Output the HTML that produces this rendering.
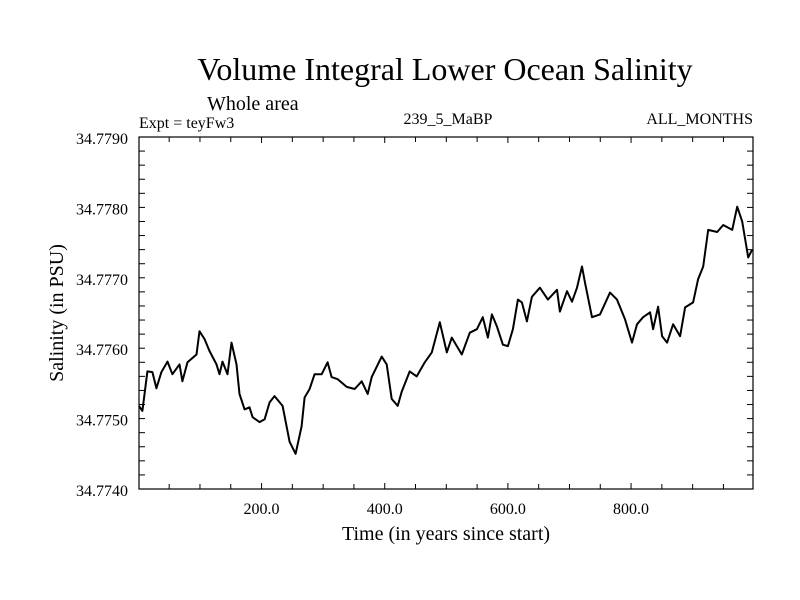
<!DOCTYPE html>
<html><head><meta charset="utf-8"><style>
body{margin:0;background:#fff;}
svg{display:block;font-family:"Liberation Serif",serif;}
</style></head><body>
<svg id="chart" width="800" height="600">
<text x="445" y="80" font-size="32" text-anchor="middle">Volume Integral Lower Ocean Salinity</text>
<text x="207" y="110" font-size="20">Whole area</text>
<text x="139" y="128" font-size="16">Expt = teyFw3</text>
<text x="448" y="124" font-size="16" text-anchor="middle">239_5_MaBP</text>
<text x="753" y="124" font-size="16" text-anchor="end">ALL_MONTHS</text>
<text x="446" y="540" font-size="20" text-anchor="middle">Time (in years since start)</text>
<text transform="translate(63,313) rotate(-90)" font-size="20" text-anchor="middle">Salinity (in PSU)</text>
<g id="axes"></g>
<g id="plot"></g>
</svg>
<script>
const years=[1,6.5,14.6,22.8,29.3,37.4,47.2,55.3,66.7,71.5,79.7,94.3,99.2,107.3,115.4,126.8,131.7,136.6,144.7,151.2,159.3,164.2,172.4,180.5,185.4,196.7,204.9,213.0,221.1,234.1,245.5,255.3,265.0,269.9,278.0,286.2,297.6,307.3,313.8,323.6,338.2,351.2,362.6,372.4,378.9,395.1,403.2,411.4,421.1,427.6,440.6,452.0,465.0,476.4,489.4,500.8,508.9,525.2,538.2,549.6,559.3,567.5,574.0,582.1,591.9,600.0,608.1,616.3,622.8,630.9,639.0,652.0,665.0,679.7,684.5,695.9,704.1,712.2,720.3,725.2,736.6,749.6,765.8,777.2,790.2,801.6,809.7,819.5,830.9,835.8,843.9,850.4,858.5,868.3,879.7,887.8,900.8,908.9,917.1,925.2,939.8,949.6,964.2,972.3,980.5,990.2,996.7];
const salinity=[34.77518,34.77511,34.77567,34.77566,34.77543,34.77566,34.77581,34.77563,34.77577,34.77553,34.77580,34.77591,34.77624,34.77613,34.77596,34.77577,34.77563,34.77581,34.77563,34.77608,34.77577,34.77535,34.77513,34.77516,34.77502,34.77495,34.77499,34.77523,34.77532,34.77518,34.77467,34.77450,34.77489,34.77530,34.77542,34.77563,34.77563,34.77580,34.77559,34.77556,34.77545,34.77542,34.77553,34.77535,34.77559,34.77588,34.77577,34.77528,34.77518,34.77538,34.77567,34.77560,34.77580,34.77594,34.77637,34.77594,34.77615,34.77591,34.77622,34.77627,34.77644,34.77615,34.77648,34.77631,34.77605,34.77603,34.77627,34.77669,34.77665,34.77638,34.77673,34.77686,34.77669,34.77683,34.77652,34.77681,34.77666,34.77686,34.77716,34.77693,34.77644,34.77648,34.77679,34.77669,34.77641,34.77608,34.77634,34.77644,34.77651,34.77627,34.77659,34.77617,34.77608,34.77634,34.77617,34.77658,34.77665,34.77698,34.77716,34.77768,34.77765,34.77775,34.77768,34.77801,34.77780,34.77729,34.77740];
const xTickLabels=["200.0","400.0","600.0","800.0"];
const xTickValues=[200,400,600,800];
const yTickLabels=["34.7740","34.7750","34.7760","34.7770","34.7780","34.7790"];
const yTickValues=[34.774,34.775,34.776,34.777,34.778,34.779];
const L=139,R=753,T=137,B=489,X0=1,X1=998,Y0=34.774,Y1=34.779;
const sx=v=>L+(v-X0)/(X1-X0)*(R-L);
const sy=v=>B-(v-Y0)/(Y1-Y0)*(B-T);
const NS="http://www.w3.org/2000/svg";
const axes=document.getElementById('axes'),plot=document.getElementById('plot');
function mk(tag,attrs,parent){const e=document.createElementNS(NS,tag);for(const k in attrs)e.setAttribute(k,attrs[k]);parent.appendChild(e);return e;}
const frame=mk('rect',{x:L,y:T,width:R-L,height:B-T,fill:'none',stroke:'#000','stroke-width':1.2},axes);


for(let v=50;v<X1;v+=50){const x=sx(v);const len=(v%200===0)?6:5;
mk('line',{x1:x,y1:B,x2:x,y2:B-len,stroke:'#000'},axes);mk('line',{x1:x,y1:T,x2:x,y2:T+len,stroke:'#000'},axes);}
for(let i=0;i<=25;i++){const v=Y0+i*0.0002;const y=sy(v);
mk('line',{x1:L,y1:y,x2:L+6,y2:y,stroke:'#000'},axes);mk('line',{x1:R,y1:y,x2:R-6,y2:y,stroke:'#000'},axes);}
xTickLabels.forEach((t,i)=>{const e=mk('text',{x:sx(xTickValues[i]),y:B+25,'font-size':16,'text-anchor':'middle'},axes);e.textContent=t;

});
yTickLabels.forEach((t,i)=>{const e=mk('text',{x:L-11,y:sy(yTickValues[i])+7,'font-size':16,'text-anchor':'end'},axes);e.textContent=t;

});
const d=years.map((y,i)=>(i?'L':'M')+sx(y).toFixed(1)+' '+sy(salinity[i]).toFixed(1)).join(' ');
const line=mk('path',{d:d,fill:'none',stroke:'#000','stroke-width':2,'stroke-linejoin':'round'},plot);


</script>
</body></html>
